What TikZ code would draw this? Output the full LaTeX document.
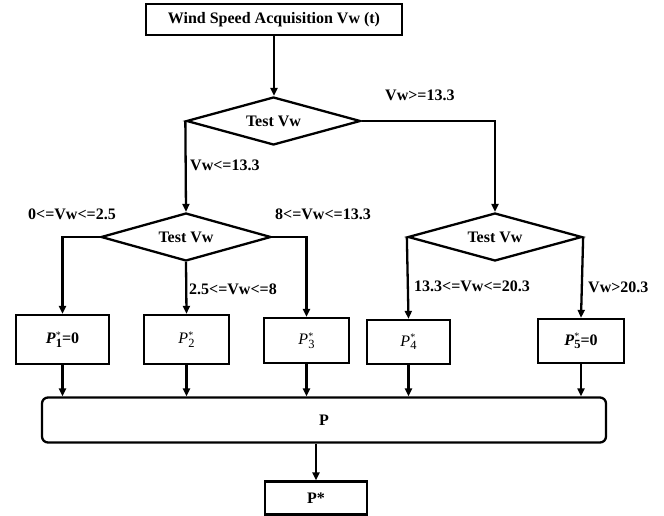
\documentclass[tikz,border=0pt]{standalone}
\usepackage{fontspec}
\setmainfont{Liberation Serif}
\usetikzlibrary{shapes.geometric,arrows.meta}
\newcommand{\Pst}[1]{\textit{P}\makebox[0pt][l]{\raisebox{0.75ex}{\fontsize{10}{10}\selectfont\mdseries *}}\raisebox{-0.45ex}{\fontsize{12.5}{12.5}\selectfont #1}}
\begin{document}
\begin{tikzpicture}[x=1pt,y=-1pt,
  every node/.style={font=\fontsize{16}{19}\selectfont\bfseries},
  box/.style={draw,line width=2.3pt,inner sep=0pt},
  dia/.style={draw,line width=2.3pt,shape=diamond,aspect=3.6,minimum width=174pt,minimum height=48pt,inner sep=0pt},
  lbl/.style={anchor=west,inner sep=0pt},
  arr/.style={line width=2.3pt,-{Triangle[length=8pt,width=7pt]}},
  mdtxt/.style={font=\fontsize{16}{19}\selectfont\mdseries}]
\useasboundingbox (0,0) rectangle (664,516);
\node[box,minimum width=256pt,minimum height=31pt] (top) at (274,19.5) {Wind Speed Acquisition Vw (t)};
\node[dia] (d1) at (273.5,121) {Test Vw};
\node[dia,minimum width=170pt] (d2) at (186,237) {Test Vw};
\node[dia] (d3) at (495,237) {Test Vw};
\node[box,minimum width=93pt,minimum height=49pt] (b1) at (62.5,339.5) {\Pst{1}=0};
\node[box,minimum width=85pt,minimum height=49pt,mdtxt] (b2) at (186.5,339.5) {\Pst{2}};
\node[box,minimum width=85pt,minimum height=45pt,mdtxt] (b3) at (306.5,340.5) {\Pst{3}};
\node[box,minimum width=83pt,minimum height=44pt,mdtxt] (b4) at (408.5,342) {\Pst{4}};
\node[box,minimum width=86pt,minimum height=44pt] (b5) at (581,341) {\Pst{5}=0};
\node[box,rounded corners=6pt,minimum width=564pt,minimum height=45pt] (P) at (324,420) {P};
\node[box,minimum width=102pt,minimum height=33pt] (Ps) at (316,498) {P*};
% labels
\node[lbl] (l1) at (385,95) {Vw>=13.3};
\node[lbl] (l2) at (190,165) {Vw<=13.3};
\node[lbl] (l3) at (28,214) {0<=Vw<=2.5};
\node[lbl] (l4) at (275,214) {8<=Vw<=13.3};
\node[lbl] (l5) at (189,289) {2.5<=Vw<=8};
\node[lbl] (l6) at (414,286) {13.3<=Vw<=20.3};
\node[lbl] (l7) at (588,287) {Vw>20.3};
% connectors
\draw[arr] (top.south) -- (top.south |- d1.north);
\draw[arr] (d1.west) -- (d2.north);
\draw[arr] (d1.east) -| (d3.north);
\draw[arr] (d2.west) -| (b1.north);
\draw[arr] (d2.south) -- (b2.north);
\draw[arr] (d2.east) -| (b3.north);
\draw[arr] (d3.west) -- (b4.north);
\draw[arr] (d3.east) -- (b5.north);
\draw[arr] (b1.south) -- (b1.south |- P.north);
\draw[arr] (b2.south) -- (b2.south |- P.north);
\draw[arr] (b3.south) -- (b3.south |- P.north);
\draw[arr] (b4.south) -- (b4.south |- P.north);
\draw[arr] (b5.south) -- (b5.south |- P.north);
\draw[arr] (P.south -| Ps.north) -- (Ps.north);
\end{tikzpicture}
\end{document}
